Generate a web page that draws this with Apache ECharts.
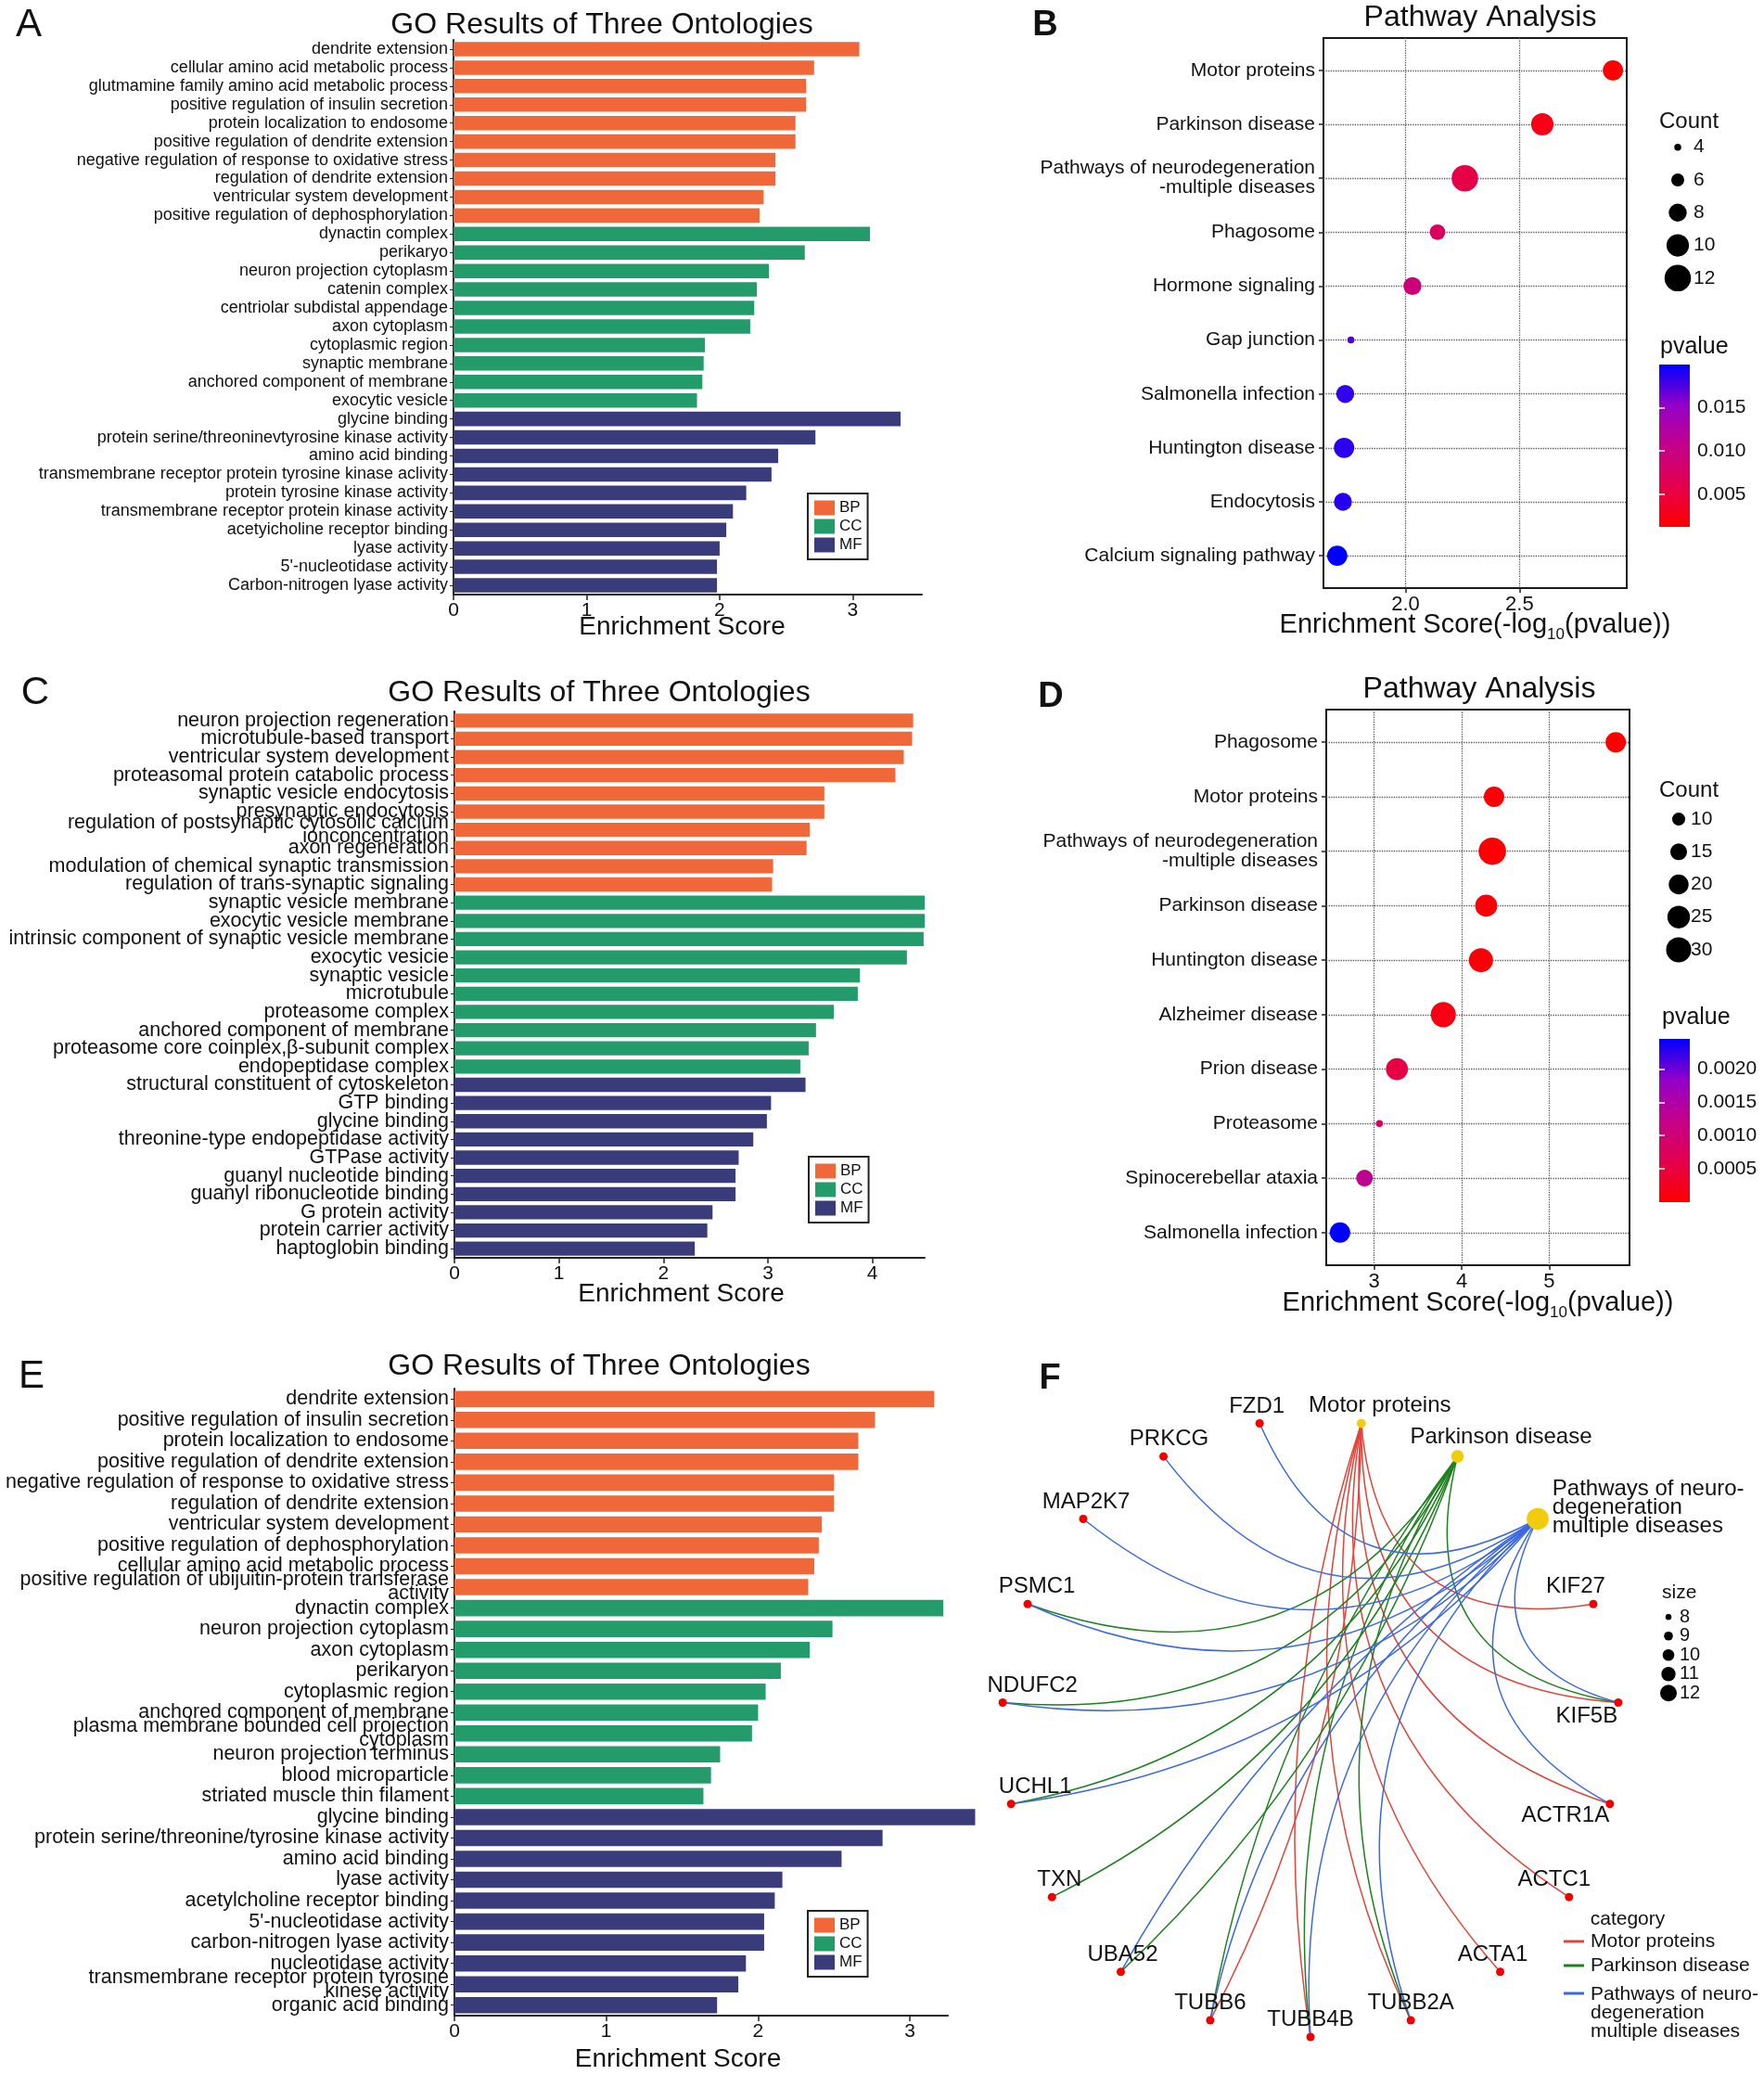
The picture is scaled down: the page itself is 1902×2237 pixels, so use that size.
<!DOCTYPE html>
<html><head><meta charset="utf-8">
<script src="https://cdn.jsdelivr.net/npm/echarts@6/dist/echarts.min.js"></script>
<style>html,body{margin:0;padding:0;background:#fff}#c{width:1902px;height:2237px}</style>
</head><body><div id="c"></div>
<script>
// ================= DATA =================
// Panel A
const aBPTerms = ['dendrite extension','cellular amino acid metabolic process','glutmamine family amino acid metabolic process','positive regulation of insulin secretion','protein localization to endosome','positive regulation of dendrite extension','negative regulation of response to oxidative stress','regulation of dendrite extension','ventricular system development','positive regulation of dephosphorylation'];
const aBPScores = [3.05, 2.71, 2.65, 2.65, 2.57, 2.57, 2.42, 2.42, 2.33, 2.30];
const aCCTerms = ['dynactin complex','perikaryo','neuron projection cytoplasm','catenin complex','centriolar subdistal appendage','axon cytoplasm','cytoplasmic region','synaptic membrane','anchored component of membrane','exocytic vesicle'];
const aCCScores = [3.13, 2.64, 2.37, 2.28, 2.26, 2.23, 1.89, 1.88, 1.87, 1.83];
const aMFTerms = ['glycine binding','protein serine/threoninevtyrosine kinase activity','amino acid binding','transmembrane receptor protein tyrosine kinase aclivity','protein tyrosine kinase activity','transmembrane receptor protein kinase activity','acetyicholine receptor binding','lyase activity',"5'-nucleotidase activity",'Carbon-nitrogen lyase activity'];
const aMFScores = [3.36, 2.72, 2.44, 2.39, 2.20, 2.10, 2.05, 2.00, 1.98, 1.98];
const aXTicks = [0, 1, 2, 3];

// Panel C
const cBPTerms = ['neuron projection regeneration','microtubule-based transport','ventricular system development','proteasomal protein catabolic process','synaptic vesicle endocytosis','presynaptic endocytosis','regulation of postsynaptic cytosolic calcium\nionconcentration','axon regeneration','modulation of chemical synaptic transmission','regulation of trans-synaptic signaling'];
const cBPScores = [4.39, 4.38, 4.30, 4.22, 3.54, 3.54, 3.40, 3.37, 3.05, 3.04];
const cCCTerms = ['synaptic vesicle membrane','exocytic vesicle membrane','intrinsic component of synaptic vesicle membrane','exocytic vesicie','synaptic vesicle','microtubule','proteasome complex','anchored component of membrane','proteasome core coinplex,\u03b2-subunit complex','endopeptidase complex'];
const cCCScores = [4.50, 4.50, 4.49, 4.33, 3.88, 3.86, 3.63, 3.46, 3.39, 3.31];
const cMFTerms = ['structural constituent of cytoskeleton','GTP binding','glycine binding','threonine-type endopeptidase activity','GTPase activity','guanyl nucleotide binding','guanyl ribonucleotide binding','G protein activity','protein carrier activity','haptoglobin binding'];
const cMFScores = [3.36, 3.03, 2.99, 2.86, 2.72, 2.69, 2.69, 2.47, 2.42, 2.30];
const cXTicks = [0, 1, 2, 3, 4];

// Panel E
const eBPTerms = ['dendrite extension','positive regulation of insulin secretion','protein localization to endosome','positive regulation of dendrite extension','negative regulation of response to oxidative stress','regulation of dendrite extension','ventricular system development','positive regulation of dephosphorylation','cellular amino acid metabolic process','positive regulation of ubijuitin-protein transferase\nactivity'];
const eBPScores = [3.16, 2.77, 2.66, 2.66, 2.50, 2.50, 2.42, 2.40, 2.37, 2.33];
const eCCTerms = ['dynactin complex','neuron projection cytoplasm','axon cytoplasm','perikaryon','cytoplasmic region','anchored component of membrane','plasma membrane bounded cell projection\ncytoplasm','neuron projection terminus','blood microparticle','striated muscle thin filament'];
const eCCScores = [3.22, 2.49, 2.34, 2.15, 2.05, 2.00, 1.96, 1.75, 1.69, 1.64];
const eMFTerms = ['glycine binding','protein serine/threonine/tyrosine kinase activity','amino acid binding','lyase activity','acetylcholine receptor binding',"5'-nucleotidase activity",'carbon-nitrogen lyase activity','nucleotidase activity','transmembrane receptor protein tyrosine\nkinese activity','organic acid binding'];
const eMFScores = [3.43, 2.82, 2.55, 2.16, 2.11, 2.04, 2.04, 1.92, 1.87, 1.73];
const eXTicks = [0, 1, 2, 3];

// Panel B
const bTerms = ['Motor proteins','Parkinson disease','Pathways of neurodegeneration\n-multiple diseases','Phagosome','Hormone signaling','Gap junction','Salmonella infection','Huntington disease','Endocytosis','Calcium signaling pathway'];
const bScores = [2.91, 2.60, 2.26, 2.14, 2.03, 1.76, 1.735, 1.73, 1.725, 1.70];
const bPvalues = [0.00123, 0.00251, 0.0055, 0.0072, 0.0093, 0.0174, 0.0184, 0.0186, 0.0188, 0.0200];
const bCounts = [9, 10, 12, 7, 8, 4, 8, 9, 8, 9];
const bXTicks = [2.0, 2.5];
const bCountBreaks = [4, 6, 8, 10, 12];
const bPBreaks = [0.005, 0.010, 0.015];

// Panel D
const dTerms = ['Phagosome','Motor proteins','Pathways of neurodegeneration\n-multiple diseases','Parkinson disease','Huntington disease','Alzheimer disease','Prion disease','Proteasome','Spinocerebellar ataxia','Salmonella infection'];
const dScores = [5.76, 4.37, 4.35, 4.28, 4.22, 3.79, 3.26, 3.06, 2.89, 2.61];
const dPvalues = [0.0000017, 0.0000427, 0.0000447, 0.0000525, 0.0000603, 0.000162, 0.00055, 0.00087, 0.00129, 0.00245];
const dCounts = [21, 21, 35, 24, 28, 30, 24, 4, 15, 21];
const dXTicks = [3, 4, 5];
const dCountBreaks = [10, 15, 20, 25, 30];
const dPBreaks = [0.0005, 0.0010, 0.0015, 0.0020];

// Panel F
const fPathways = ['Motor proteins', 'Parkinson disease', 'Pathways of neurodegeneration-multiple diseases'];
const fPathwayLabels = ['Motor proteins', 'Parkinson disease', 'Pathways of neuro-\ndegeneration\nmultiple diseases'];
const fGenes = ['KIF27','KIF5B','ACTR1A','ACTC1','ACTA1','TUBB2A','TUBB4B','TUBB6','UBA52','TXN','UCHL1','NDUFC2','PSMC1','MAP2K7','PRKCG','FZD1'];
const fMotorGenes = ['KIF27','KIF5B','ACTR1A','ACTC1','ACTA1','TUBB2A','TUBB4B','TUBB6'];
const fParkinsonGenes = ['KIF5B','TUBB2A','TUBB4B','TUBB6','UBA52','TXN','UCHL1','NDUFC2','PSMC1'];
const fNeuroGenes = ['KIF5B','ACTR1A','TUBB2A','TUBB4B','TUBB6','UBA52','UCHL1','NDUFC2','PSMC1','MAP2K7','PRKCG','FZD1'];
const fSizeBreaks = [8, 9, 10, 11, 12];

// ================= STYLE =================
const FONT = '"Liberation Sans", Arial, Helvetica, sans-serif';
const TXT = '#111';
const C_BP = '#F0683A', C_CC = '#249B6B', C_MF = '#3A3B7A';
const P_COLORS = ['#FF0000', '#E4004C', '#C4008A', '#9400C8', '#0000FF'];
const E_RED = '#E0443A', E_GREEN = '#1E8020', E_BLUE = '#3B67E2';

const grids = [], xAxes = [], yAxes = [], series = [], visualMaps = [], legends = [], graphics = [];

function sizeScale(v, vmin, vmax, dmin, dmax) {
  return dmin + (Math.sqrt(v) - Math.sqrt(vmin)) / (Math.sqrt(vmax) - Math.sqrt(vmin)) * (dmax - dmin);
}

function text(x, y, str, size, opts) {
  opts = opts || {};
  graphics.push({
    type: 'text', x: x, y: y, silent: true,
    style: {
      text: str, fill: TXT,
      font: (opts.weight || 'normal') + ' ' + size + 'px ' + FONT,
      align: opts.align || 'center', verticalAlign: 'middle',
      lineHeight: opts.lineHeight
    }
  });
}

function barPanel(cfg) {
  const gi = grids.length;
  grids.push({ left: cfg.left, top: cfg.top, width: cfg.width, height: cfg.height, outerBoundsMode: 'none', containLabel: false });
  const terms = [].concat(...cfg.groups.map(g => g.terms));
  const xi = xAxes.length;
  xAxes.push({
    gridIndex: gi, type: 'value', min: 0, max: cfg.max,
    axisLine: { show: true, lineStyle: { color: '#222', width: 2 } },
    axisTick: { show: true, customValues: cfg.ticks, length: 6, lineStyle: { color: '#222', width: 1.5 } },
    axisLabel: { customValues: cfg.ticks, fontSize: 21, color: TXT, margin: 7, fontFamily: FONT },
    splitLine: { show: false },
    name: 'Enrichment Score', nameLocation: 'middle', nameGap: cfg.nameGap, nameMoveOverlap: false,
    nameTextStyle: { fontSize: 28, color: TXT, fontFamily: FONT, padding: [0, cfg.namePad, 0, 0] }
  });
  const yi = yAxes.length;
  yAxes.push({
    gridIndex: gi, type: 'category', data: terms, inverse: true,
    axisLine: { show: true, lineStyle: { color: '#222', width: 2 } },
    axisTick: { show: true, alignWithLabel: true, interval: 0, length: 4, lineStyle: { color: '#222' } },
    axisLabel: { interval: 0, fontSize: cfg.fontSize, color: TXT, margin: 6, lineHeight: 15, fontFamily: FONT },
    splitLine: { show: false }
  });
  cfg.groups.forEach((g, gIdx) => {
    const data = [].concat(...cfg.groups.map((h, hIdx) => hIdx === gIdx ? h.scores : h.terms.map(() => '-')));
    series.push({
      type: 'bar', name: g.name, xAxisIndex: xi, yAxisIndex: yi, stack: 'go' + gi,
      barCategoryGap: '22%', clip: false, silent: true,
      itemStyle: { color: g.color }, data: data
    });
  });
  legends.push({
    data: ['BP', 'CC', 'MF'], orient: 'vertical', left: cfg.legend[0], top: cfg.legend[1],
    icon: 'rect', itemWidth: 22, itemHeight: 16, itemGap: 3, padding: [7, 6, 7, 7],
    borderColor: '#222', borderWidth: 2, selectedMode: false,
    textStyle: { fontSize: 17, color: TXT, fontFamily: FONT }
  });
}

function dotPanel(cfg) {
  const n = cfg.terms.length;
  const rows = cfg.terms.map((t, i) => i + 1);
  const xmin = Math.min(...cfg.scores), xmax = Math.max(...cfg.scores), xr = xmax - xmin;
  const cmin = Math.min(...cfg.counts), cmax = Math.max(...cfg.counts);
  const pmin = Math.min(...cfg.pvalues), pmax = Math.max(...cfg.pvalues);
  const sz = c => sizeScale(c, cmin, cmax, 7.5, cfg.dmax);
  const dotted = { show: true, lineStyle: { type: 'dotted', color: '#555', width: 1.3 } };

  const gi = grids.length;
  grids.push({ left: cfg.left, top: cfg.top, width: cfg.width, height: cfg.height, show: true,
    borderColor: '#1a1a1a', borderWidth: 2, backgroundColor: 'transparent', outerBoundsMode: 'none', containLabel: false });
  const xi = xAxes.length;
  xAxes.push({
    gridIndex: gi, type: 'value', min: xmin - 0.05 * xr, max: xmax + 0.05 * xr,
    axisLine: { show: false },
    axisTick: { show: true, customValues: cfg.xTicks, length: 5, lineStyle: { color: '#222', width: 1.5 } },
    axisLabel: { customValues: cfg.xTicks, formatter: v => v.toFixed(cfg.xDec), fontSize: 22, color: TXT, margin: 7, fontFamily: FONT },
    splitLine: dotted,
    name: '{m|Enrichment Score(-log}{s|10}{m|(pvalue))}', nameLocation: 'middle', nameGap: cfg.nameGap, nameMoveOverlap: false,
    nameTextStyle: { rich: {
      m: { fontSize: 29, color: TXT, fontFamily: FONT, verticalAlign: 'middle', lineHeight: 32 },
      s: { fontSize: 17, color: TXT, fontFamily: FONT, verticalAlign: 'bottom', lineHeight: 38 }
    } }
  });
  const yi = yAxes.length;
  yAxes.push({
    gridIndex: gi, type: 'value', min: 0.4, max: n + 0.6, inverse: true,
    axisLine: { show: false },
    axisTick: { show: true, customValues: rows, length: 5, lineStyle: { color: '#222', width: 1.5 } },
    axisLabel: { customValues: rows, formatter: v => cfg.terms[Math.round(v) - 1], fontSize: 21, lineHeight: 21,
      color: TXT, margin: 9, fontFamily: FONT },
    splitLine: dotted
  });
  const si = series.length;
  series.push({
    type: 'scatter', xAxisIndex: xi, yAxisIndex: yi, silent: true, z: 5,
    encode: { x: 0, y: 1 },
    data: cfg.terms.map((t, i) => [cfg.scores[i], i + 1, cfg.pvalues[i], cfg.counts[i]]),
    symbolSize: v => sz(v[3]),
    itemStyle: { opacity: 1 }
  });
  visualMaps.push({ type: 'continuous', show: false, seriesIndex: si, dimension: 2, min: pmin, max: pmax,
    inRange: { color: P_COLORS } });

  // Count legend
  const lg = grids.length;
  grids.push({ left: cfg.countGrid[0], top: cfg.countGrid[1], width: 18, height: cfg.countGrid[2], outerBoundsMode: 'none' });
  const lxi = xAxes.length;
  xAxes.push({ gridIndex: lg, type: 'value', min: -1, max: 1, show: false });
  const lyi = yAxes.length;
  yAxes.push({ gridIndex: lg, type: 'category', data: cfg.countBreaks.map(String), inverse: true, position: 'right',
    axisLine: { show: false }, axisTick: { show: false }, splitLine: { show: false },
    axisLabel: { interval: 0, fontSize: 21, color: TXT, margin: cfg.countMargin, fontFamily: FONT } });
  series.push({ type: 'scatter', xAxisIndex: lxi, yAxisIndex: lyi, silent: true,
    data: cfg.countBreaks.map(b => [0, String(b), b]), symbolSize: v => sz(v[2]), itemStyle: { color: '#000', opacity: 1 } });

  // p-value colour bar
  const cg = grids.length;
  const grad = new echarts.graphic.LinearGradient(0, 0, 0, 1,
    P_COLORS.slice().reverse().map((c, i, arr) => ({ offset: i / (arr.length - 1), color: c })));
  grids.push({ left: cfg.barGrid[0], top: cfg.barGrid[1], width: 33, height: cfg.barGrid[2], show: true,
    backgroundColor: grad, borderWidth: 0, outerBoundsMode: 'none' });
  xAxes.push({ gridIndex: cg, type: 'value', min: 0, max: 1, show: false });
  const tickStyle = { show: true, customValues: cfg.pBreaks, inside: true, length: 6, lineStyle: { color: '#fff', width: 1.5 } };
  yAxes.push({ gridIndex: cg, type: 'value', min: pmin, max: pmax, position: 'right',
    axisLine: { show: false }, splitLine: { show: false }, axisTick: tickStyle,
    axisLabel: { customValues: cfg.pBreaks, formatter: v => v.toFixed(cfg.pDec), fontSize: 21, color: TXT, margin: 8, fontFamily: FONT } });
  yAxes.push({ gridIndex: cg, type: 'value', min: pmin, max: pmax, position: 'left',
    axisLine: { show: false }, splitLine: { show: false }, axisTick: tickStyle, axisLabel: { show: false } });
}

// ---------- build panels ----------
barPanel({ left: 489, top: 43, width: 505, height: 598, max: 3.52, ticks: aXTicks, fontSize: 18, nameGap: 21, namePad: 12,
  legend: [871, 532],
  groups: [{ name: 'BP', terms: aBPTerms, scores: aBPScores, color: C_BP },
           { name: 'CC', terms: aCCTerms, scores: aCCScores, color: C_CC },
           { name: 'MF', terms: aMFTerms, scores: aMFScores, color: C_MF }] });
barPanel({ left: 490, top: 767, width: 507, height: 589, max: 4.5, ticks: cXTicks, fontSize: 21.5, nameGap: 25, namePad: 18,
  legend: [872, 1247],
  groups: [{ name: 'BP', terms: cBPTerms, scores: cBPScores, color: C_BP },
           { name: 'CC', terms: cCCTerms, scores: cCCScores, color: C_CC },
           { name: 'MF', terms: cMFTerms, scores: cMFScores, color: C_MF }] });
barPanel({ left: 490, top: 1497, width: 532, height: 676, max: 3.25, ticks: eXTicks, fontSize: 21.5, nameGap: 33, namePad: 50,
  legend: [871, 2060],
  groups: [{ name: 'BP', terms: eBPTerms, scores: eBPScores, color: C_BP },
           { name: 'CC', terms: eCCTerms, scores: eCCScores, color: C_CC },
           { name: 'MF', terms: eMFTerms, scores: eMFScores, color: C_MF }] });

dotPanel({ terms: bTerms, scores: bScores, pvalues: bPvalues, counts: bCounts, xTicks: bXTicks, xDec: 1,
  left: 1427, top: 41, width: 327, height: 593, dmax: 28.5, nameGap: 21,
  countBreaks: bCountBreaks, countGrid: [1800, 141, 176.5], countMargin: 8,
  pBreaks: bPBreaks, pDec: 3, barGrid: [1789, 393, 175] });
dotPanel({ terms: dTerms, scores: dScores, pvalues: dPvalues, counts: dCounts, xTicks: dXTicks, xDec: 0,
  left: 1430, top: 765, width: 327, height: 599, dmax: 29.5, nameGap: 22,
  countBreaks: dCountBreaks, countGrid: [1801, 865.5, 176], countMargin: 4,
  pBreaks: dPBreaks, pDec: 4, barGrid: [1789, 1120, 176] });

// ---------- Panel F network ----------
const fOrder = fPathways.concat(fGenes);
const fGroups = [
  { pathway: fPathways[0], genes: fMotorGenes, color: E_RED },
  { pathway: fPathways[1], genes: fParkinsonGenes, color: E_GREEN },
  { pathway: fPathways[2], genes: fNeuroGenes, color: E_BLUE }
];
const fLinks = [];
fGroups.forEach(g => g.genes.forEach(gene => {
  const N = fOrder.length;
  const si = fOrder.indexOf(g.pathway), ti = fOrder.indexOf(gene);
  const cw = (ti - si + N) % N;
  const k = Math.min(cw, N - cw);
  const c = (0.75 - 0.07 * k) * (cw < N / 2 ? -1 : 1);
  fLinks.push({ source: g.pathway, target: gene, lineStyle: { color: g.color, curveness: c, width: 1.5 } });
}));
const fDegree = name => fLinks.filter(l => l.source === name || l.target === name).length;
const fSize = s => sizeScale(s, 8, 12, 6.5, 18);
// label placement (style only)
const fLabelPos = {
  'Motor proteins': ['top', 20, 0], 'Parkinson disease': ['top', 47, 0],
  'KIF27': ['top', -19, 0], 'KIF5B': ['bottom', -34, -4], 'ACTR1A': ['bottom', -48, -6],
  'ACTC1': ['top', -16, 0], 'ACTA1': ['top', -8, 0], 'TUBB2A': ['top', 0, 0], 'TUBB4B': ['top', 0, 0],
  'TUBB6': ['top', 0, 0], 'UBA52': ['top', 2, 0], 'TXN': ['top', 8, 0], 'UCHL1': ['top', 26, 0],
  'NDUFC2': ['top', 32, 0], 'PSMC1': ['top', 10, 0], 'MAP2K7': ['top', 3, 0], 'PRKCG': ['top', 6, 0], 'FZD1': ['top', -3, 0]
};
const fNodes = fOrder.map(name => {
  const pIdx = fPathways.indexOf(name);
  const isPath = pIdx >= 0;
  const lp = fLabelPos[name];
  const label = isPath && pIdx === 2
    ? { show: true, position: 'right', distance: 4, offset: [0, -12], lineHeight: 20, align: 'left', formatter: fPathwayLabels[2] }
    : { show: true, position: lp[0], distance: 2, offset: [lp[1], lp[2]], formatter: isPath ? fPathwayLabels[pIdx] : name };
  label.fontSize = 24; label.color = TXT; label.fontFamily = FONT;
  return {
    name: name, value: [1, name],
    symbolSize: isPath ? 1.2 * fSize(fDegree(name)) + 2 : 9,
    itemStyle: { color: isPath ? '#F2CC0C' : '#F20000' },
    label: label
  };
});
series.push({
  type: 'graph', coordinateSystem: 'polar', polarIndex: 0, layout: 'none', silent: true,
  data: fNodes, links: fLinks, edgeSymbol: ['none', 'none'], symbol: 'circle',
  lineStyle: { width: 1.5, opacity: 1 }, emphasis: { disabled: true }, z: 3
});

// size legend for F
const fg = grids.length;
grids.push({ left: 1790, top: 1733, width: 18, height: 102.5, outerBoundsMode: 'none' });
const fxi = xAxes.length;
xAxes.push({ gridIndex: fg, type: 'value', min: -1, max: 1, show: false });
const fyi = yAxes.length;
yAxes.push({ gridIndex: fg, type: 'category', data: fSizeBreaks.map(String), inverse: true, position: 'right',
  axisLine: { show: false }, axisTick: { show: false }, splitLine: { show: false },
  axisLabel: { interval: 0, fontSize: 20, color: TXT, margin: 3, fontFamily: FONT } });
series.push({ type: 'scatter', xAxisIndex: fxi, yAxisIndex: fyi, silent: true,
  data: fSizeBreaks.map(b => [0, String(b), b]), symbolSize: v => fSize(v[2]), itemStyle: { color: '#000', opacity: 1 } });

// ---------- texts ----------
text(31, 27, 'A', 42);
text(1127, 28, 'B', 38, { weight: 'bold' });
text(38, 747, 'C', 42);
text(1133, 752, 'D', 38, { weight: 'bold' });
text(34, 1484, 'E', 42);
text(1132, 1487, 'F', 38, { weight: 'bold' });
text(649, 27, 'GO Results of Three Ontologies', 32);
text(646, 747, 'GO Results of Three Ontologies', 32);
text(646, 1473, 'GO Results of Three Ontologies', 32);
text(1596, 19, 'Pathway Analysis', 32);
text(1595, 743, 'Pathway Analysis', 32);
text(1789, 131, 'Count', 24, { align: 'left' });
text(1790, 374, 'pvalue', 25, { align: 'left' });
text(1789, 852, 'Count', 24, { align: 'left' });
text(1792, 1097, 'pvalue', 25, { align: 'left' });
text(1792, 1717, 'size', 21, { align: 'left' });
text(1755, 2069, 'category', 21);
const catLegend = [[fPathwayLabels[0], E_RED, 2093], [fPathwayLabels[1], E_GREEN, 2119], [fPathwayLabels[2], E_BLUE, 2170]];
catLegend.forEach(([lab, col, y], i) => {
  const ly = i === 2 ? 2149 : y;
  graphics.push({ type: 'line', silent: true, shape: { x1: 1686, y1: ly, x2: 1708, y2: ly }, style: { stroke: col, lineWidth: 3 } });
  text(1715, y, lab, 21, { align: 'left', lineHeight: 20 });
});

const option = {
  animation: false,
  backgroundColor: '#fff',
  textStyle: { fontFamily: FONT },
  grid: grids, xAxis: xAxes, yAxis: yAxes, series: series,
  visualMap: visualMaps, legend: legends,
  polar: { center: [1413, 1863], radius: 333 },
  angleAxis: { type: 'category', data: fOrder, startAngle: 90, clockwise: true, show: false },
  radiusAxis: { type: 'value', min: 0, max: 1, show: false },
  graphic: graphics
};
const chart = echarts.init(document.getElementById('c'), null, { renderer: 'canvas', width: 1902, height: 2237 });
chart.setOption(option);
</script>
</body></html>
